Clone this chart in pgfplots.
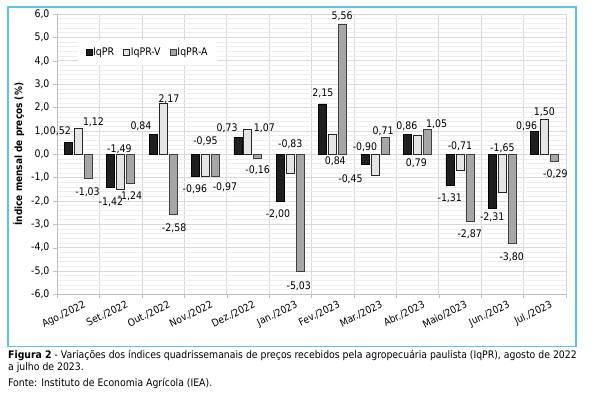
\documentclass[border=0pt]{standalone}
\usepackage{fontspec}
\setmainfont{DejaVu Sans Condensed}
\usepackage{pgfplots}
\usepackage{pgfplotstable}
\pgfplotsset{compat=1.18}
\definecolor{frameblue}{RGB}{95,195,230}
\definecolor{gridgray}{RGB}{217,217,217}
\definecolor{minorgray}{RGB}{238,238,238}
\definecolor{axgray}{RGB}{191,191,191}

\pgfplotstableread{
x a v g
0  0.52  1.12 -1.03
1 -1.42 -1.49 -1.24
2  0.84  2.17 -2.58
3 -0.96 -0.95 -0.97
4  0.73  1.07 -0.16
5 -2.00 -0.83 -5.03
6  2.15  0.84  5.56
7 -0.45 -0.90  0.71
8  0.86  0.79  1.05
9 -1.31 -0.71 -2.87
10 -2.31 -1.65 -3.80
11 0.96  1.50 -0.29
}\datatable

\pgfplotstableread{
x y label
-0.42 0.98 0,52
0.36 1.38 1,12
0.22 -1.61 -1,03
1.22 -1.80 -1,24
0.77 -2.04 -1,42
0.97 0.20 -1,49
1.48 1.20 0,84
2.14 2.35 2,17
2.26 -3.15 -2,58
2.75 -1.51 -0,96
3.00 0.56 -0,95
3.46 -1.42 -0,97
3.51 1.12 0,73
4.39 1.12 1,07
4.23 -0.68 -0,16
4.71 -2.58 -2,00
5.00 0.44 -0,83
5.20 -5.63 -5,03
5.77 2.62 2,15
6.06 -0.30 0,84
6.22 5.91 5,56
6.42 -1.08 -0,45
6.76 0.31 -0,90
7.19 1.00 0,71
7.75 1.20 0,86
7.97 -0.37 0,79
8.45 1.28 1,05
8.76 -1.89 -1,31
9.00 0.36 -0,71
9.23 -3.42 -2,87
9.76 -2.68 -2,31
10.00 0.27 -1,65
10.22 -4.39 -3,80
10.57 1.21 0,96
10.99 1.78 1,50
11.25 -0.85 -0,29
}\labeltable

\begin{document}
\begin{tikzpicture}
\path[use as bounding box] (0bp,0bp) rectangle (596bp,399bp);
\draw[frameblue, line width=1.3bp] (8bp,392bp) rectangle (576bp,52.5bp);
\begin{axis}[
  at={(57bp,104.6bp)}, anchor=south west,
  scale only axis, width=509bp, height=280.4bp,
  xmin=-0.5, xmax=11.5, ymin=-6, ymax=6,
  axis lines*=left,
  axis line style={draw=axgray},
  xtick={0,1,...,11},
  xticklabels={Ago./2022,Set./2022,Out./2022,Nov./2022,Dez./2022,Jan./2023,Fev./2023,Mar./2023,Abr./2023,Maio/2023,Jun./2023,Jul./2023},
  major x tick style={draw=none},
  minor xtick={-0.5,0.5,...,11.5},
  xminorgrids,
  minor x grid style={draw=gridgray, line width=0.6bp},
  xticklabel style={rotate=26, anchor=north east, inner sep=0.5bp, yshift=-3bp, xshift=4bp, font=\fontsize{10.2}{12}\selectfont},
  ytick={-6,-5,...,6},
  minor y tick num=4,
  ymajorgrids, yminorgrids,
  major y grid style={draw=gridgray, line width=0.6bp},
  minor y grid style={draw=minorgray, line width=0.5bp},
  minor y tick style={draw=none},
  major tick length=4bp, minor tick length=4bp,
  tick align=outside,
  tick style={draw=axgray},
  yticklabel style={font=\fontsize{10.5}{12}\selectfont, /pgf/number format/.cd, fixed, fixed zerofill, precision=1, use comma, assume math mode=true},
  ylabel={\bfseries Índice mensal de preços (\%)},
  ylabel style={font=\fontsize{10}{12}\selectfont},
  legend image code/.code={\draw[#1] (0bp,-3bp) rectangle (6bp,3bp);},
  legend columns=3,
  legend style={at={(0.177,0.863)}, anchor=center, draw=none, fill=white,
    font=\fontsize{10.5}{12}\selectfont, inner xsep=8bp, inner ysep=7bp,
    /tikz/every even column/.append style={column sep=8bp},
    nodes={inner sep=1bp}},
]
\addplot[ybar, bar width=8bp, bar shift=-10bp, fill=black!88, draw=black, line width=0.6bp] table[x=x,y=a] {\datatable};
\addlegendentry{IqPR}
\addplot[ybar, bar width=8bp, bar shift=0bp, fill=black!10, draw=black!85, line width=0.8bp] table[x=x,y=v] {\datatable};
\addlegendentry{IqPR-V}
\addplot[ybar, bar width=8bp, bar shift=10bp, fill=black!35, draw=black!75, line width=0.8bp] table[x=x,y=g] {\datatable};
\addlegendentry{IqPR-A}
\addplot[forget plot, only marks, mark=none, point meta=explicit symbolic,
  nodes near coords, nodes near coords style={anchor=center, inner sep=0pt, font=\fontsize{10.5}{12}\selectfont, text=black}]
  table[x=x,y=y,meta=label] {\labeltable};
\end{axis}
\node[anchor=base west, inner sep=0pt, font=\fontsize{10.4}{12}\selectfont] at (8bp,40bp) {\textbf{Figura 2} - Variações dos índices quadrissemanais de preços recebidos pela agropecuária paulista (IqPR), agosto de 2022};
\node[anchor=base west, inner sep=0pt, font=\fontsize{10.4}{12}\selectfont] at (8bp,28.3bp) {a julho de 2023.};
\node[anchor=base west, inner sep=0pt, font=\fontsize{10.4}{12}\selectfont] at (8bp,12.3bp) {Fonte: Instituto de Economia Agrícola (IEA).};
\end{tikzpicture}
\end{document}
